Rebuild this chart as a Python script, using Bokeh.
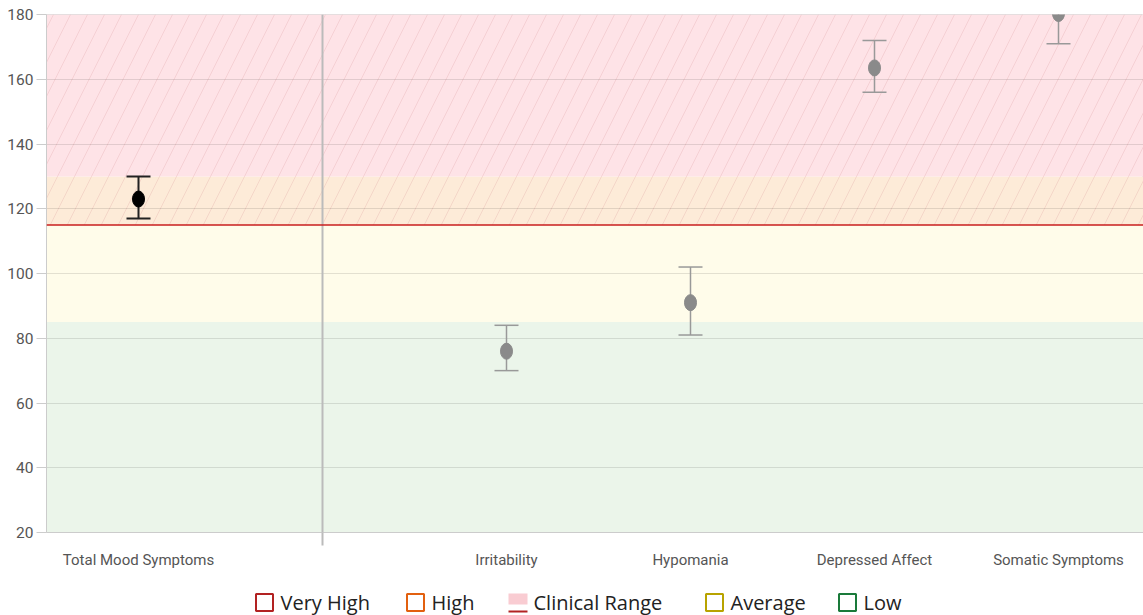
from bokeh.plotting import figure
from bokeh.layouts import column
from bokeh.models import (Span, Whisker, TeeHead, ColumnDataSource, FixedTicker, Range1d)
from bokeh.core.properties import value
from bokeh.embed import file_html
from bokeh.resources import INLINE

# ---- data ----
categories = ["Total Mood Symptoms", "", "Irritability", "Hypomania", "Depressed Affect", "Somatic Symptoms"]
cat_pos = [0, 1, 2, 3, 4, 5]
score_pos = [0, 2, 3, 4, 5]
score_mean = [123, 76, 91, 163.5, 180.3]
score_low = [117, 70, 81, 156, 171]
score_high = [130, 84, 102, 172, 189]
score_color = ["#000000", "#8a8a8a", "#8a8a8a", "#8a8a8a", "#8a8a8a"]
whisker_color = ["#222222", "#999999", "#999999", "#999999", "#999999"]

band_names = ["Low", "Average", "High", "Very High"]
band_bottom = [20, 85, 115, 130]
band_top = [85, 115, 130, 180]
band_fill = ["#ebf5ea", "#fffcea", "#fdebd8", "#fee3e7"]
clinical_cut = 115
y_ticks = [20, 40, 60, 80, 100, 120, 140, 160, 180]

legend_labels = ["Very High", "High", "Clinical Range", "Average", "Low"]
legend_colors = ["#b22222", "#e2600f", "#f9ccd2", "#b8a300", "#1a7a3a"]

# ---- layout constants ----
W = 1143
LEFT = 46
TOP = 14
MAIN_H = 575
BOTTOM = MAIN_H - 532
PX_PER_CAT = 184
LEG_H = 40
legend_x = [255, 406, 508, 705, 838]   # left edge of each legend glyph (px)

p = figure(width=W, height=MAIN_H, min_border_left=LEFT, min_border_top=TOP,
           min_border_right=0, min_border_bottom=BOTTOM,
           x_range=Range1d(-0.5, -0.5 + (W - LEFT) / PX_PER_CAT), y_range=Range1d(20, 180),
           output_backend="svg", toolbar_location=None)

# bands
p.quad(left=-0.5, right=6, bottom=band_bottom, top=band_top, fill_color=band_fill,
       line_color=None, level="underlay")
# hatching over clinical range
p.quad(left=-0.5, right=6, bottom=[clinical_cut], top=[180], fill_alpha=0, line_color=None,
       hatch_pattern="/", hatch_color="#d08088", hatch_alpha=0.2, hatch_scale=34,
       hatch_weight=1, level="underlay")

p.xgrid.visible = False
p.ygrid.ticker = FixedTicker(ticks=y_ticks)
p.ygrid.grid_line_color = "#000000"
p.ygrid.grid_line_alpha = 0.11
p.ygrid.level = "underlay"

p.outline_line_color = "#dddddd"

p.add_layout(Span(location=1, dimension="height", line_color="#bbbbbb", line_width=2))
p.add_layout(Span(location=clinical_cut, dimension="width", line_color="#c81e1e", line_width=1.4))

# error bars
src = ColumnDataSource(dict(x=score_pos, m=score_mean, lo=score_low, hi=score_high,
                            c=score_color))
for i in range(len(score_pos)):
    s = ColumnDataSource(dict(x=[score_pos[i]], lo=[score_low[i]], hi=[score_high[i]]))
    lw = 2 if i == 0 else 1.5
    w = Whisker(base="x", lower="lo", upper="hi", source=s,
                line_color=whisker_color[i], line_width=lw,
                upper_head=TeeHead(size=24, line_color=whisker_color[i], line_width=lw),
                lower_head=TeeHead(size=24, line_color=whisker_color[i], line_width=lw))
    p.add_layout(w)
p.ellipse(x="x", y="m", width=12, height=16, width_units="screen", height_units="screen",
          fill_color="c", line_color="c", source=src)

# axes
p.yaxis.ticker = FixedTicker(ticks=y_ticks)
p.yaxis.axis_line_color = "#cccccc"
p.yaxis.major_tick_line_color = "#cccccc"
p.yaxis.major_tick_out = 10
p.yaxis.major_tick_in = 0
p.yaxis.minor_tick_line_color = None
p.yaxis.major_label_standoff = 3
p.yaxis.major_label_text_font = "Roboto"
p.yaxis.major_label_text_font_size = "15.5px"
p.yaxis.major_label_text_color = "#555555"

p.xaxis.ticker = FixedTicker(ticks=score_pos, minor_ticks=[1])
p.xaxis.major_label_overrides = {cat_pos[i]: categories[i] for i in range(len(categories)) if categories[i]}
p.xaxis.axis_line_color = "#cccccc"
p.xaxis.major_tick_line_color = None
p.xaxis.major_tick_out = 0
p.xaxis.minor_tick_line_color = "#bbbbbb"
p.xaxis.minor_tick_line_width = 2
p.xaxis.minor_tick_out = 13
p.xaxis.minor_tick_in = 0
p.xaxis.major_label_standoff = 5
p.xaxis.major_label_text_font = "Roboto"
p.xaxis.major_label_text_font_size = "15px"
p.xaxis.major_label_text_color = "#555555"

# ---- legend (separate strip, pixel coordinates aligned with the main frame) ----
lg = figure(width=W, height=LEG_H, x_range=Range1d(LEFT, W), y_range=Range1d(0, LEG_H),
            min_border=0, min_border_left=LEFT, output_backend="svg", toolbar_location=None)
lg.axis.visible = False
lg.grid.visible = False
lg.outline_line_color = None

box_x, box_c, text_x = [], [], []
for lab, col, x0 in zip(legend_labels, legend_colors, legend_x):
    text_x.append(x0 + 25)
    if lab == "Clinical Range":
        lg.quad(left=[x0], right=[x0 + 19], bottom=[11], top=[22], fill_color=col, line_color=None)
        lg.segment(x0=[x0], x1=[x0 + 19], y0=[4], y1=[4], line_color="#b22222", line_width=2)
    else:
        box_x.append(x0 + 9)
        box_c.append(col)
lg.rect(x=box_x, y=13, width=17, height=17, fill_alpha=0, line_color=box_c, line_width=2)
lg.text(x=text_x, y=13, text=legend_labels, text_font=value("Open Sans"),
        text_font_size="20px", text_baseline="middle", text_color="#222222")

open("out.html", "w").write(file_html(column(p, lg), INLINE))
